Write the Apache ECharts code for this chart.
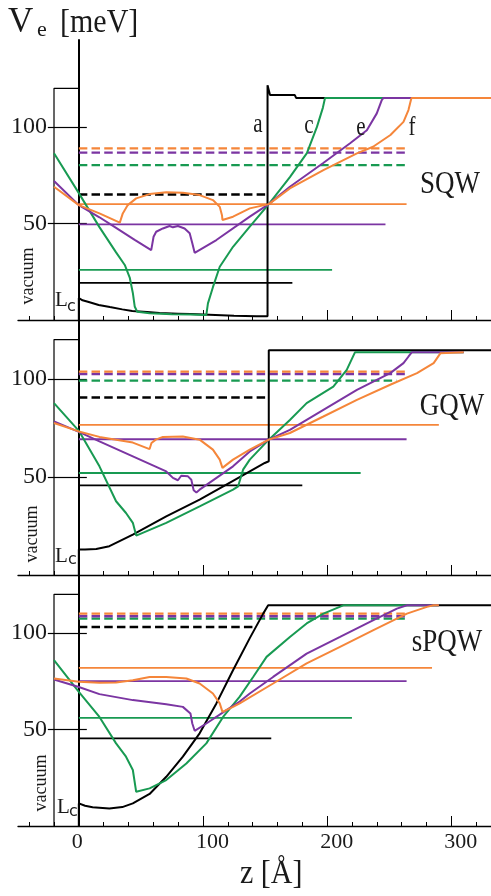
<!DOCTYPE html>
<html>
<head>
<meta charset="utf-8">
<script src="https://cdn.jsdelivr.net/npm/echarts@6/dist/echarts.min.js"></script>
<style>
html, body { margin: 0; padding: 0; background: #fff; }
#chart { width: 491px; height: 896px; }
</style>
</head>
<body>
<div id="chart"></div>
<script>
// ---- axes ----
const zMin = -49, zMax = 332;
const zMinorTicks = [-40, -20, 0, 20, 40, 60, 80, 100, 120, 140, 160, 180, 200, 220, 240, 260, 280, 300, 320];
const zMajorTicks = [100, 200, 300];
const zTickLabels = [0, 100, 200, 300];
const vTicks = [50, 100];
const vMax = [145, 130, 130];
const vacuumEdge = -20, vacuumTop = 120;

// ---- SQW: potentials V_e(z) [meV] for densities a, c, e, f ----
const sqwA = [[0,0],[0,11.4],[3,10.2],[8,9.3],[16,7.8],[25,6.7],[35,5.5],[43,4.7],[55,4.1],[65,3.6],[80,3.3],[90,3.1],[110,2.6],[125,2.2],[143,2],[152,2],[152,121.6],[154,116.5],[174,116.5],[175,115],[332,115]];
const sqwC = [[-20,86.4],[0,65.7],[16.6,48.1],[30,35],[37,28.5],[41,22],[43.5,14],[45,7],[47,4.3],[57,3.5],[75,3],[90,2.8],[102.7,2.6],[104,8.6],[108,17],[113.5,27.6],[124.2,37.9],[137.7,48.3],[153,60],[170,74],[183.7,86.4],[191.8,100],[196.6,110],[198.3,115],[332,115]];
const sqwE = [[-20,72],[0,59.5],[16.6,53.2],[30,47.7],[45,41.5],[58.3,36.2],[60.2,43.1],[62.3,45.7],[67.7,47.4],[73.1,48.7],[75.8,48],[79.8,48.7],[85.2,47.4],[89.3,44.9],[91.4,39.7],[93.3,34.8],[110.8,41.4],[137.7,53.5],[153,60],[170,69],[196.6,81.2],[218.5,91.5],[232,98.3],[240,107],[244,113.9],[245.4,115],[332,115]];
const sqwF = [[-20,69],[0,59.5],[16.6,55.2],[33,50.4],[35.4,55.2],[39.4,59.5],[46.2,63],[57,65.2],[70.4,66.1],[83.8,65.9],[97.3,64.7],[108,62.1],[113.5,58.6],[115.3,54.3],[115.7,51.8],[124.2,53.5],[137.7,57.8],[153,60],[170,68.1],[197,77.6],[224,86.3],[237,89.7],[251,95.8],[261.5,102.6],[265.5,108.7],[267.5,113.9],[268,115],[332,115]];
// SQW: ground (solid) and first excited (dashed) levels, order a, c, e, f
const sqwLevel0 = [19.2, 26.0, 49.5, 60.0];
const sqwLevel0End = [172, 204, 247, 264];
const sqwLevel1 = [65.0, 80.2, 86.7, 88.9];
const sqwLevel1End = [151, 264, 264, 264];

// ---- GQW ----
const gqwA = [[0,0],[0,13],[5,13],[14,13.3],[24.6,14.7],[43.5,20.6],[70.4,29.9],[97.3,38.4],[124.2,48],[149.8,57.1],[153,58],[153,114.6],[332,114.6]];
const gqwC = [[-20,87.6],[0,73.5],[16.6,55.4],[30,37.6],[38,31.6],[43.5,26.6],[46.2,20.1],[70.4,26.6],[97.3,35],[124.2,43.5],[128.3,45.2],[132.3,53.7],[137.7,58.8],[153,69],[170,79],[183.5,87.6],[205,96],[215.8,104.6],[222.5,113.6],[310,113.6]];
const gqwE = [[-20,78.3],[0,73],[16.6,68.1],[43.5,60.5],[70.4,52.8],[75.8,49.5],[79.8,48.3],[82.5,50.6],[87.9,50.3],[90.6,48.6],[92.5,43.2],[94.7,42.1],[97.3,43.5],[124.2,55.4],[137.7,63],[153,69],[170,74],[197,84.2],[224,94.4],[250.8,102.9],[261.5,108],[265.6,111.4],[268.3,113.6],[310,113.6]];
const gqwF = [[-20,77.5],[0,73.2],[16.6,70.4],[43.5,67.5],[57,64.2],[58.5,67.3],[62,69],[67.7,70.4],[83.8,70.6],[97.3,69],[108,63.9],[113.5,58.8],[115.7,54.6],[124.2,58.8],[137.7,63.9],[153,69],[170,72.4],[197,80.8],[224,89.3],[250.8,97],[272.4,102.9],[285.8,108],[291.2,113],[292,113.6],[310,113.6]];
const gqwLevel0 = [45.7, 52.0, 69.2, 76.5];
const gqwLevel0End = [180, 227, 264, 290];
const gqwLevel1 = [90.5, 99.1, 102.5, 103.7];
const gqwLevel1End = [151, 256, 264, 264];

// ---- sPQW ----
const spqwA = [[0,0],[0,11.7],[5,10.5],[11.1,9.7],[24.6,9.1],[35,9.8],[43.5,11.7],[57,16.6],[70.4,25.5],[83.8,35.9],[97.3,48],[110.8,63.5],[124.2,80.7],[137.7,97.3],[148.5,110],[152.5,114.3],[332,114.3]];
const spqwC = [[-20,85.9],[0,69.5],[16.6,56.5],[30,42.8],[38,35.9],[43.5,29],[46.2,17.7],[57,19.5],[70.4,23.8],[86.6,32.4],[102.7,42.8],[116.2,56.5],[129.6,67],[140.4,77.2],[151.2,87.6],[170,97.9],[183.5,104.9],[197,110],[213,114.3],[290,114.3]];
const spqwE = [[-20,75.9],[0,72],[16.6,68.3],[43.5,65.2],[70.4,63.1],[83.8,61.7],[89.9,58.3],[91.4,53.1],[93.3,49.3],[102.7,53.1],[118.9,60],[129.6,64.5],[137.7,68.6],[156.5,77.2],[183.5,89.3],[210.4,97.9],[237.3,106.6],[256.2,112.6],[264.3,114.3],[290,114.3]];
const spqwF = [[-20,76.4],[0,74.7],[16.6,74.2],[30,74.3],[43.5,75.5],[57,77.2],[70.4,77.2],[86.6,76.4],[97.3,73.8],[108,68.6],[113.5,63.5],[115.7,59.1],[124.2,61.7],[129.6,63.5],[156.5,73.8],[183.5,84.2],[210.4,92.8],[237.3,101.4],[264.3,110],[280.4,113.5],[285.8,114.3],[290,114.3]];
const spqwLevel0 = [45.4, 56.0, 75.0, 81.9];
const spqwLevel0End = [155, 220, 264, 284.5];
const spqwLevel1 = [103.1, 107.4, 108.6, 110.0];
const spqwLevel1End = [143, 265.6, 265.6, 265.6];

const curveColors = ['#000000', '#189a52', '#7b35a2', '#f5863a'];
const serif = 'Liberation Serif';

const panels = [
  { top: 40,  height: 280, pot: [sqwA, sqwC, sqwE, sqwF],     l0: sqwLevel0,  l0e: sqwLevel0End,  l1: sqwLevel1,  l1e: sqwLevel1End },
  { top: 320, height: 255, pot: [gqwA, gqwC, gqwE, gqwF],     l0: gqwLevel0,  l0e: gqwLevel0End,  l1: gqwLevel1,  l1e: gqwLevel1End },
  { top: 575, height: 251, pot: [spqwA, spqwC, spqwE, spqwF], l0: spqwLevel0, l0e: spqwLevel0End, l1: spqwLevel1, l1e: spqwLevel1End }
];

const grid = [], xAxis = [], yAxis = [], series = [];

panels.forEach((p, i) => {
  grid.push({ left: 18, right: 0, top: p.top, height: p.height, containLabel: false, outerBoundsMode: 'none' });
  // minor ticks + axis line
  xAxis.push({
    gridIndex: i, type: 'value', position: 'bottom', min: zMin, max: zMax,
    axisLine: { show: true, lineStyle: { color: '#000', width: 1.3 } },
    axisTick: { show: true, inside: true, length: 4, customValues: zMinorTicks, lineStyle: { color: '#000', width: 1 } },
    axisLabel: { show: false }, splitLine: { show: false }
  });
  // major ticks (+ labels on the bottom panel)
  xAxis.push({
    gridIndex: i, type: 'value', position: 'bottom', min: zMin, max: zMax,
    axisLine: { show: false },
    axisTick: { show: true, inside: true, length: 10, customValues: zMajorTicks, lineStyle: { color: '#000', width: 1 } },
    axisLabel: i === 2 ? {
      show: true, customValues: zTickLabels, align: 'left', padding: [0, 0, 0, -7], margin: 5,
      fontFamily: serif, fontSize: 22, color: '#1a1a1a'
    } : { show: false },
    splitLine: { show: false }
  });
  // V axis at z = 0, ticks reaching outwards across the vacuum box
  yAxis.push({
    gridIndex: i, type: 'value', position: 'left', min: 0, max: vMax[i],
    axisLine: { show: true, onZero: true, lineStyle: { color: '#000', width: 2 } },
    axisTick: { show: true, inside: false, length: 31, customValues: vTicks, lineStyle: { color: '#000', width: 1.2 } },
    axisLabel: { show: true, customValues: vTicks, margin: -29, align: 'right', fontFamily: serif, fontSize: 24, color: '#1a1a1a' },
    splitLine: { show: false }
  });
  yAxis.push({
    gridIndex: i, type: 'value', position: 'left', min: 0, max: vMax[i],
    axisLine: { show: false, onZero: true },
    axisTick: { show: true, inside: true, length: 8, customValues: vTicks, lineStyle: { color: '#000', width: 1.2 } },
    axisLabel: { show: false }, splitLine: { show: false }
  });

  const xi = 2 * i, yi = 2 * i;
  // vacuum box
  series.push({
    type: 'line', xAxisIndex: xi, yAxisIndex: yi, silent: true, showSymbol: false, z: 2,
    data: [[vacuumEdge, 0], [vacuumEdge, vacuumTop], [0, vacuumTop]],
    lineStyle: { color: '#000', width: 1.2 }
  });
  // energy levels
  for (let k = 0; k < 4; k++) {
    series.push({
      type: 'line', xAxisIndex: xi, yAxisIndex: yi, silent: true, showSymbol: false, z: 3,
      data: [[0, p.l0[k]], [p.l0e[k], p.l0[k]]],
      lineStyle: { color: curveColors[k], width: 1.8, cap: 'butt' }
    });
  }
  for (let k = 0; k < 4; k++) {
    series.push({
      type: 'line', xAxisIndex: xi, yAxisIndex: yi, silent: true, showSymbol: false, z: 3,
      data: [[0, p.l1[k]], [p.l1e[k], p.l1[k]]],
      lineStyle: { color: curveColors[k], width: 2.4, type: [8.5, 4.2], cap: 'butt' }
    });
  }
  // potential profiles
  for (let k = 0; k < 4; k++) {
    series.push({
      type: 'line', xAxisIndex: xi, yAxisIndex: yi, silent: true, showSymbol: false, z: 4,
      data: p.pot[k],
      lineStyle: { color: curveColors[k], width: 2 }
    });
  }
});

function txt(x, y, text, size, opts) {
  opts = opts || {};
  return {
    type: 'text', x: x, y: y, z: 10,
    scaleY: opts.scaleY || 1, rotation: opts.rotation || 0,
    style: Object.assign({ text: text, font: size + 'px "' + serif + '"', fill: '#1a1a1a', textAlign: 'center', textVerticalAlign: 'middle' }, opts.style || {})
  };
}

const graphic = [
  txt(8, 22, 'V', 35, { style: { textAlign: 'left' }, scaleY: 1.05 }),
  txt(37, 30, 'e', 22, { style: { textAlign: 'left' } }),
  txt(60, 23, '[meV]', 30, { style: { textAlign: 'left' }, scaleY: 1.1 }),
  txt(240, 874, 'z [Å]', 30, { style: { textAlign: 'left' }, scaleY: 1.1 }),
  txt(450, 185, 'SQW', 27, { scaleY: 1.15 }),
  txt(452, 407, 'GQW', 27, { scaleY: 1.15 }),
  txt(447, 643, 'sPQW', 27, { scaleY: 1.15 }),
  txt(258, 125, 'a', 21, { scaleY: 1.3 }),
  txt(309, 126, 'c', 21, { scaleY: 1.3 }),
  txt(361, 128, 'e', 21, { scaleY: 1.3 }),
  txt(412, 128, 'f', 21, { scaleY: 1.3 }),
  txt(28, 276, 'vacuum', 18, { rotation: Math.PI / 2 }),
  txt(32, 534, 'vacuum', 18, { rotation: Math.PI / 2 }),
  txt(41, 783, 'vacuum', 18, { rotation: Math.PI / 2 }),
  txt(55, 300, 'L', 21, { style: { textAlign: 'left' } }),
  txt(67, 307, 'c', 16, { style: { textAlign: 'left', font: '16px "DejaVu Sans"' } }),
  txt(55, 556, 'L', 21, { style: { textAlign: 'left' } }),
  txt(68, 560, 'c', 16, { style: { textAlign: 'left', font: '16px "DejaVu Sans"' } }),
  txt(57, 807, 'L', 21, { style: { textAlign: 'left' } }),
  txt(69, 812, 'c', 16, { style: { textAlign: 'left', font: '16px "DejaVu Sans"' } })
];

const chart = echarts.init(document.getElementById('chart'), null, { renderer: 'canvas' });
chart.setOption({
  animation: false,
  backgroundColor: '#ffffff',
  grid: grid,
  xAxis: xAxis,
  yAxis: yAxis,
  series: series,
  graphic: graphic
});
</script>
</body>
</html>
